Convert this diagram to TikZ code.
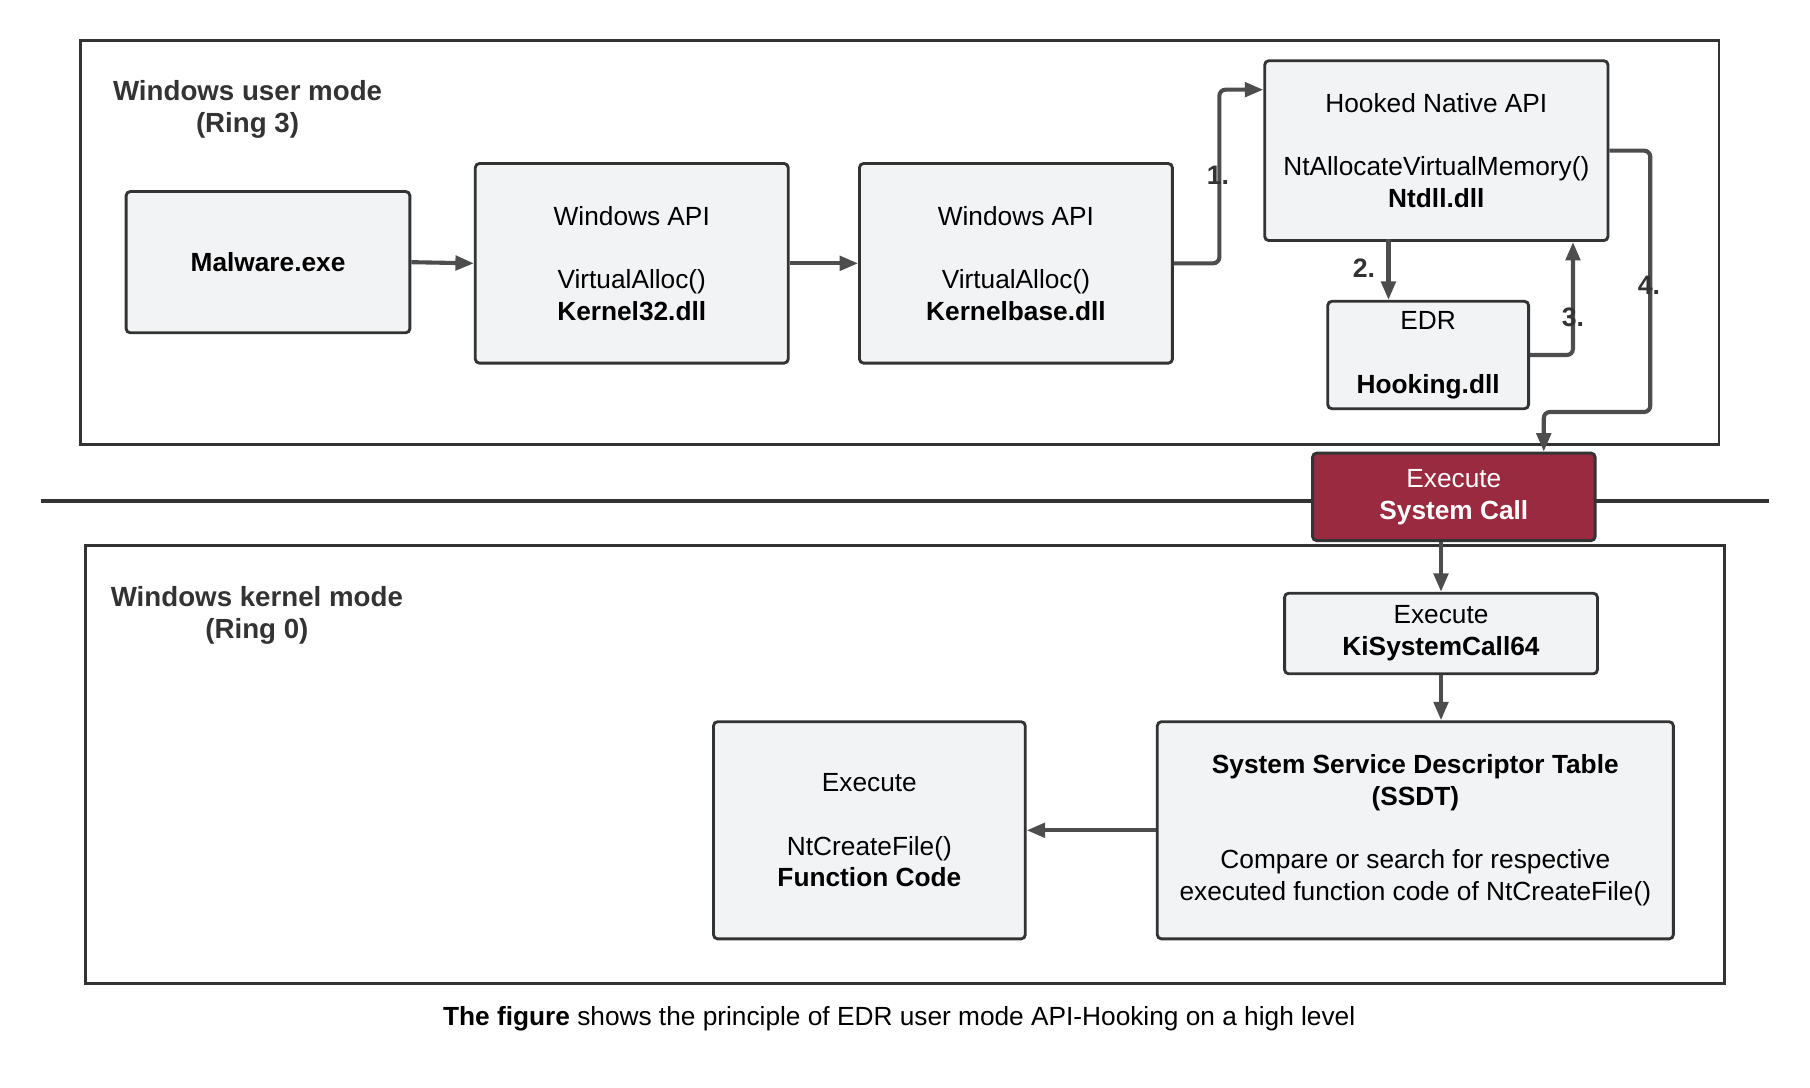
\documentclass[tikz,border=0pt]{standalone}
\usepackage{fontspec}
\setmainfont{Liberation Sans}
\usetikzlibrary{arrows.meta,calc}
\definecolor{boxfill}{HTML}{F2F3F5}
\definecolor{boxline}{HTML}{333333}
\definecolor{arrowgray}{HTML}{4D4D4D}
\definecolor{sysred}{HTML}{9A2A3F}
\tikzset{
  frame/.style={draw=boxline, line width=1.4pt},
  box/.style={draw=boxline, fill=boxfill, line width=1.4pt, rounded corners=2pt, align=center, inner sep=0pt},
  flow/.style={draw=arrowgray, line width=2pt, -{Triangle[length=9pt,width=7pt]}, rounded corners=3pt},
  steplbl/.style={font=\fontsize{13}{15.5}\selectfont\bfseries, text=boxline},
  zone/.style={font=\fontsize{13.5}{15.5}\selectfont\bfseries, align=center, text=boxline}
}
\begin{document}
\begin{tikzpicture}[x=0.02cm,y=-0.02cm,font=\fontsize{12.8}{15.5}\selectfont]
\useasboundingbox (0,0) rectangle (1550,931);

% frames
\draw[frame] (69,35) rectangle (1472,381);
\draw[frame] (73,467) rectangle (1477,842);
\draw[boxline, line width=2.4pt] (35,429) -- (1515,429);
\node[zone] (userlbl) at (212,94) {Windows user mode\\(Ring 3)};
\node[zone] (kernlbl) at (220,527) {Windows kernel mode\\(Ring 0)};

% user mode boxes
\node[box, minimum width=4.86cm, minimum height=2.42cm] (malware) at (229.5,224.5) {\textbf{Malware.exe}};
\node[box, minimum width=5.36cm, minimum height=3.42cm] (kernel32) at (541,225.5)
  {Windows API\\[15.5pt]VirtualAlloc()\\\textbf{Kernel32.dll}};
\node[box, minimum width=5.36cm, minimum height=3.42cm] (kernelbase) at (870,225.5)
  {Windows API\\[15.5pt]VirtualAlloc()\\\textbf{Kernelbase.dll}};
\node[box, minimum width=5.88cm, minimum height=3.08cm] (ntdll) at (1230,129)
  {Hooked Native API\\[15.5pt]NtAllocateVirtualMemory()\\\textbf{Ntdll.dll}};
\node[box, minimum width=3.44cm, minimum height=1.84cm] (edr) at (1223,304)
  {EDR\\[15.5pt]\textbf{Hooking.dll}};

% system call
\node[box, fill=sysred, text=white, minimum width=4.84cm, minimum height=1.5cm] (syscall) at (1245,425.5)
  {Execute\\\textbf{System Call}};

% kernel mode boxes
\node[box, minimum width=5.36cm, minimum height=1.38cm] (kisys) at (1234,542.5)
  {Execute\\\textbf{KiSystemCall64}};
\node[box, minimum width=8.84cm, minimum height=3.72cm] (ssdt) at (1212,711)
  {\textbf{System Service Descriptor Table}\\\textbf{(SSDT)}\\[15.5pt]Compare or search for respective\\executed function code of NtCreateFile()};
\node[box, minimum width=5.34cm, minimum height=3.72cm] (ntcreate) at (744.5,711)
  {Execute\\[15.5pt]NtCreateFile()\\\textbf{Function Code}};

% connectors
\draw[flow] (malware.east) -- (kernel32.west);
\draw[flow] (kernel32.east) -- (kernelbase.west);
\draw[flow] (kernelbase.east) -- ++(39,0) |- ($(ntdll.north west)+(0,26)$);
\draw[flow] ($(edr.north)+(-34,-52)$) -- ($(edr.north)+(-34,0)$);
\draw[flow] (edr.east) -| ($(ntdll.south)+(117,0)$);
\draw[flow] (ntdll.east) -- ++(35,0) |- ($(syscall.north)+(77,-34)$) -- ($(syscall.north)+(77,0)$);
\draw[flow] ($(syscall.south)+(-11,0)$) -- (kisys.north);
\draw[flow] (kisys.south) -- ($(ssdt.north)+(22,0)$);
\draw[flow] (ssdt.west) -- (ntcreate.east);

% step labels
\node[steplbl] (s1) at (1043,150) {1.};
\node[steplbl] (s2) at (1168,230) {2.};
\node[steplbl] (s3) at (1347,272) {3.};
\node[steplbl] (s4) at (1412,244) {4.};

% caption
\node (caption) at (770,872) {\textbf{The figure} shows the principle of EDR user mode API-Hooking on a high level};
\end{tikzpicture}
\end{document}
